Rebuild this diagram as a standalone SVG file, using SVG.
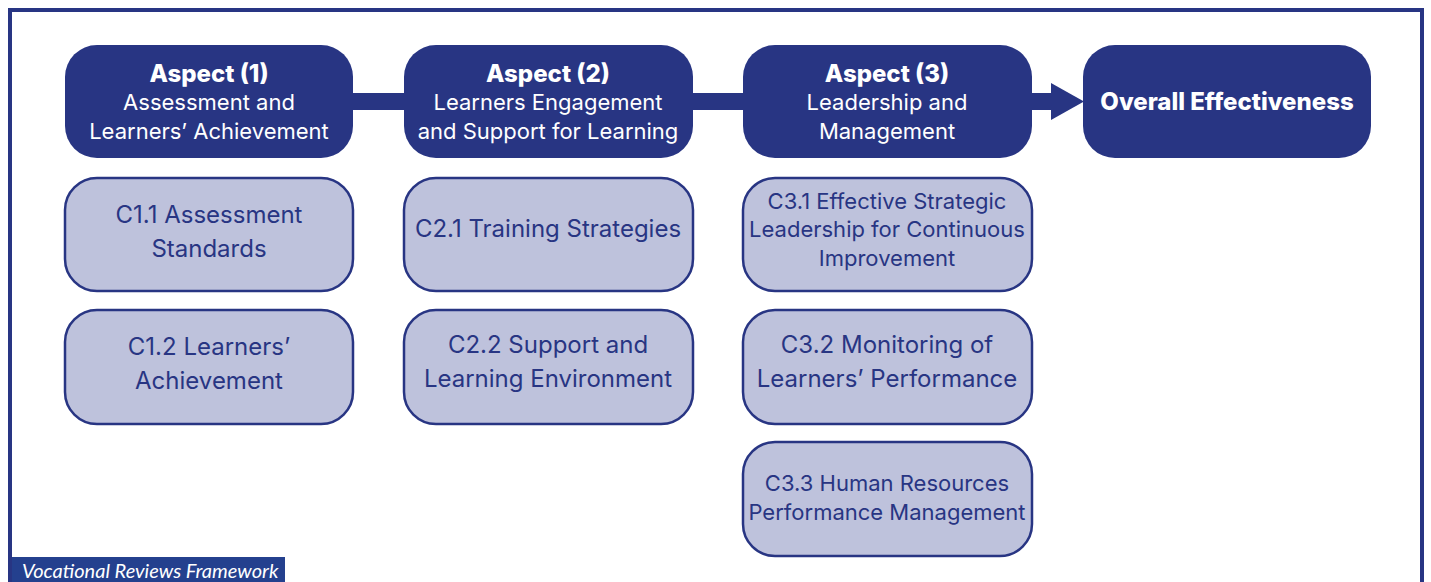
<svg xmlns="http://www.w3.org/2000/svg" width="1431" height="582" viewBox="0 0 1431 582">
<style>
.dark{fill:#283583}
.light{fill:#bec2dc;stroke:#283583;stroke-width:2.5}
.t{font-family:Inter,"Liberation Sans",sans-serif;text-anchor:middle}
.w{fill:#ffffff;font-size:22px}
.wb{fill:#ffffff;font-size:24px;font-weight:800}
.b{fill:#283583;font-size:24px}
.bs{fill:#283583;font-size:22px}
</style>
<rect x="0" y="0" width="1431" height="582" fill="#ffffff"/>
<rect x="10" y="10" width="1412" height="600" fill="none" stroke="#283583" stroke-width="4"/>
<g id="connectors">
<rect x="350" y="93" width="58" height="17" class="dark"/>
<rect x="690" y="93" width="57" height="17" class="dark"/>
<rect x="1029" y="93" width="23" height="17" class="dark"/>
<polygon points="1051,83 1084,101.5 1051,120" class="dark"/>
</g>
<g id="aspect1">
<rect x="65" y="45" width="288" height="113" rx="32" class="dark"/>
<text class="t wb" x="209" y="82">Aspect (1)</text>
<text class="t w" x="209" y="110">Assessment and</text>
<text class="t w" x="209" y="139">Learners’ Achievement</text>
</g>
<g id="aspect2">
<rect x="404" y="45" width="289" height="113" rx="32" class="dark"/>
<text class="t wb" x="548" y="82">Aspect (2)</text>
<text class="t w" x="548" y="110">Learners Engagement</text>
<text class="t w" x="548" y="139">and Support for Learning</text>
</g>
<g id="aspect3">
<rect x="743" y="45" width="289" height="113" rx="32" class="dark"/>
<text class="t wb" x="887" y="82">Aspect (3)</text>
<text class="t w" x="887" y="110">Leadership and</text>
<text class="t w" x="887" y="139">Management</text>
</g>
<g id="overall">
<rect x="1083" y="45" width="288" height="113" rx="32" class="dark"/>
<text class="t wb" x="1227" y="110">Overall Effectiveness</text>
</g>
<g id="c11">
<rect x="65" y="178" width="288" height="113" rx="32" class="light"/>
<text class="t b" x="209" y="223">C1.1 Assessment</text>
<text class="t b" x="209" y="257">Standards</text>
</g>
<g id="c12">
<rect x="65" y="310" width="288" height="114" rx="32" class="light"/>
<text class="t b" x="209" y="355">C1.2 Learners’</text>
<text class="t b" x="209" y="389">Achievement</text>
</g>
<g id="c21">
<rect x="404" y="178" width="289" height="113" rx="32" class="light"/>
<text class="t b" x="548" y="237">C2.1 Training Strategies</text>
</g>
<g id="c22">
<rect x="404" y="310" width="289" height="114" rx="32" class="light"/>
<text class="t b" x="548" y="353">C2.2 Support and</text>
<text class="t b" x="548" y="387">Learning Environment</text>
</g>
<g id="c31">
<rect x="743" y="178" width="289" height="113" rx="32" class="light"/>
<text class="t bs" x="887" y="209">C3.1 Effective Strategic</text>
<text class="t bs" x="887" y="237">Leadership for Continuous</text>
<text class="t bs" x="887" y="266">Improvement</text>
</g>
<g id="c32">
<rect x="743" y="310" width="289" height="114" rx="32" class="light"/>
<text class="t b" x="887" y="353">C3.2 Monitoring of</text>
<text class="t b" x="887" y="387">Learners’ Performance</text>
</g>
<g id="c33">
<rect x="743" y="442" width="289" height="114" rx="32" class="light"/>
<text class="t bs" x="887" y="491">C3.3 Human Resources</text>
<text class="t bs" x="887" y="520">Performance Management</text>
</g>
<g id="footer">
<rect x="12" y="557" width="273" height="27" fill="#24408e"/>
<text x="22" y="578" font-family="Lato,'Liberation Sans',sans-serif" font-style="italic" font-size="20" fill="#ffffff">Vocational Reviews Framework</text>
</g>
</svg>
